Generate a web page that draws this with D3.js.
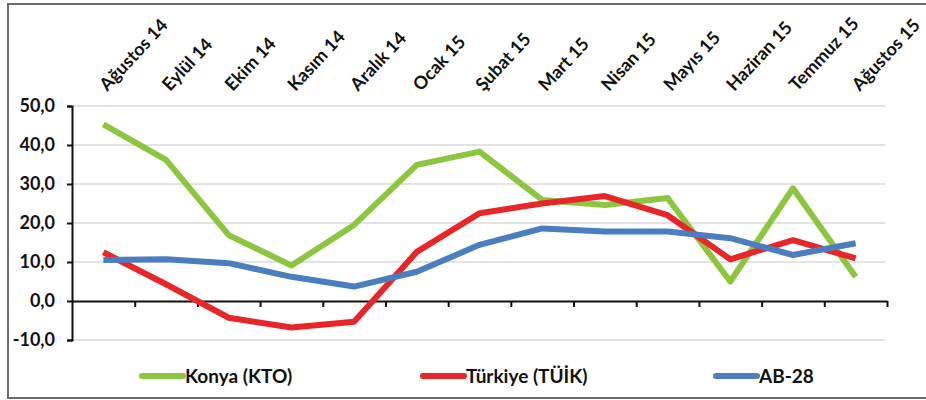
<!DOCTYPE html>
<html>
<head>
<meta charset="utf-8">
<script src="https://cdn.jsdelivr.net/npm/d3@7"></script>
<style>
  body { margin: 0; background: #fff; }
  text { font-family: Lato, "Open Sans", sans-serif; font-weight: bold; fill: #111; }
</style>
</head>
<body>
<div id="chart"></div>
<script>
// data
var months = ["Ağustos 14", "Eylül 14", "Ekim 14", "Kasım 14", "Aralık 14", "Ocak 15", "Şubat 15",
  "Mart 15", "Nisan 15", "Mayıs 15", "Haziran 15", "Temmuz 15", "Ağustos 15"];
var konya = [45.3, 36.2, 16.9, 9.1, 19.5, 34.9, 38.3, 25.9, 24.6, 26.4, 5.0, 28.9, 6.2];
var turkiye = [12.5, 4.3, -4.3, -6.8, -5.3, 12.6, 22.5, 25.0, 26.9, 22.0, 10.7, 15.6, 10.9];
var ab28 = [10.5, 10.7, 9.7, 6.2, 3.7, 7.5, 14.4, 18.6, 17.8, 17.8, 16.1, 11.8, 14.8];
var yTicks = [-10, 0, 10, 20, 30, 40, 50];

var seriesNames = ["Konya (KTO)", "Türkiye (TÜİK)", "AB-28"];
var seriesColors = ["#8cc63f", "#e8262a", "#4a7ebf"];

var svgWidth = 926, svgHeight = 400;
var margin = {top: 106, right: 39, bottom: 60, left: 72};
var width = svgWidth - margin.left - margin.right;
var height = svgHeight - margin.top - margin.bottom;

var svg = d3.select("#chart").append("svg")
  .attr("width", svgWidth)
  .attr("height", svgHeight);

// outer frame
svg.append("rect")
  .attr("x", 8).attr("y", 4)
  .attr("width", 940).attr("height", 394)
  .attr("fill", "none")
  .attr("stroke", "#6b6b6b")
  .attr("stroke-width", 2);

var g = svg.append("g")
  .attr("transform", `translate(${margin.left}, ${margin.top})`);

var x = d3.scaleBand().domain(months).range([0, width]);
var xEdge = d3.scaleLinear().domain([0, months.length]).range([0, width]);
var y = d3.scaleLinear().domain([-10, 50]).range([height, 0]);

// gridlines
g.append("g")
  .selectAll("line")
  .data(yTicks.filter(d => d != 0))
  .enter().append("line")
  .attr("x1", 0).attr("x2", width - 2)
  .attr("y1", d => y(d)).attr("y2", d => y(d))
  .attr("stroke", "#dadada")
  .attr("stroke-width", 1.5);

// y axis
var yAxis = g.append("g")
  .call(d3.axisLeft(y).tickValues(yTicks).tickSize(5)
    .tickFormat(d => d.toFixed(1).replace(".", ",")));
yAxis.selectAll("path, line").attr("stroke", "#111").attr("stroke-width", 2);
yAxis.selectAll("text")
  .attr("x", -17)
  .style("font-size", "18px")
  .style("font-family", "Lato, sans-serif")
  .style("font-weight", "bold");

// x axis at zero
var xAxis = g.append("g")
  .attr("transform", `translate(0, ${y(0)})`)
  .call(d3.axisBottom(xEdge).tickValues(d3.range(1, months.length + 1))
    .tickSize(6).tickSizeOuter(0).tickFormat(""));
xAxis.selectAll("path, line").attr("stroke", "#111").attr("stroke-width", 2);

// rotated month labels
g.append("g")
  .selectAll("text")
  .data(months)
  .enter().append("text")
  .attr("transform", d => `translate(${x(d) + x.bandwidth() / 2 + 4}, -14) rotate(-47)`)
  .attr("text-anchor", "start")
  .style("font-size", "18px")
  .text(d => d);

// lines
var line = d3.line()
  .x((d, i) => x(months[i]) + x.bandwidth() / 2)
  .y(d => y(d));

[konya, turkiye, ab28].forEach(function(vals, k) {
  g.append("path")
    .datum(vals)
    .attr("d", line)
    .attr("fill", "none")
    .attr("stroke", seriesColors[k])
    .attr("stroke-width", 6)
    .attr("stroke-linejoin", "round");
});

// legend
var legendX = [142, 423, 716];
var legend = svg.append("g")
  .selectAll("g")
  .data(seriesNames)
  .enter().append("g")
  .attr("transform", (d, i) => `translate(${legendX[i]}, 376)`);

legend.append("line")
  .attr("x1", 0).attr("x2", 41)
  .attr("stroke", (d, i) => seriesColors[i])
  .attr("stroke-width", 6)
  .attr("stroke-linecap", "round");

legend.append("text")
  .attr("x", 43)
  .attr("y", 7)
  .style("font-size", "19px")
  .text(d => d);
</script>
</body>
</html>
